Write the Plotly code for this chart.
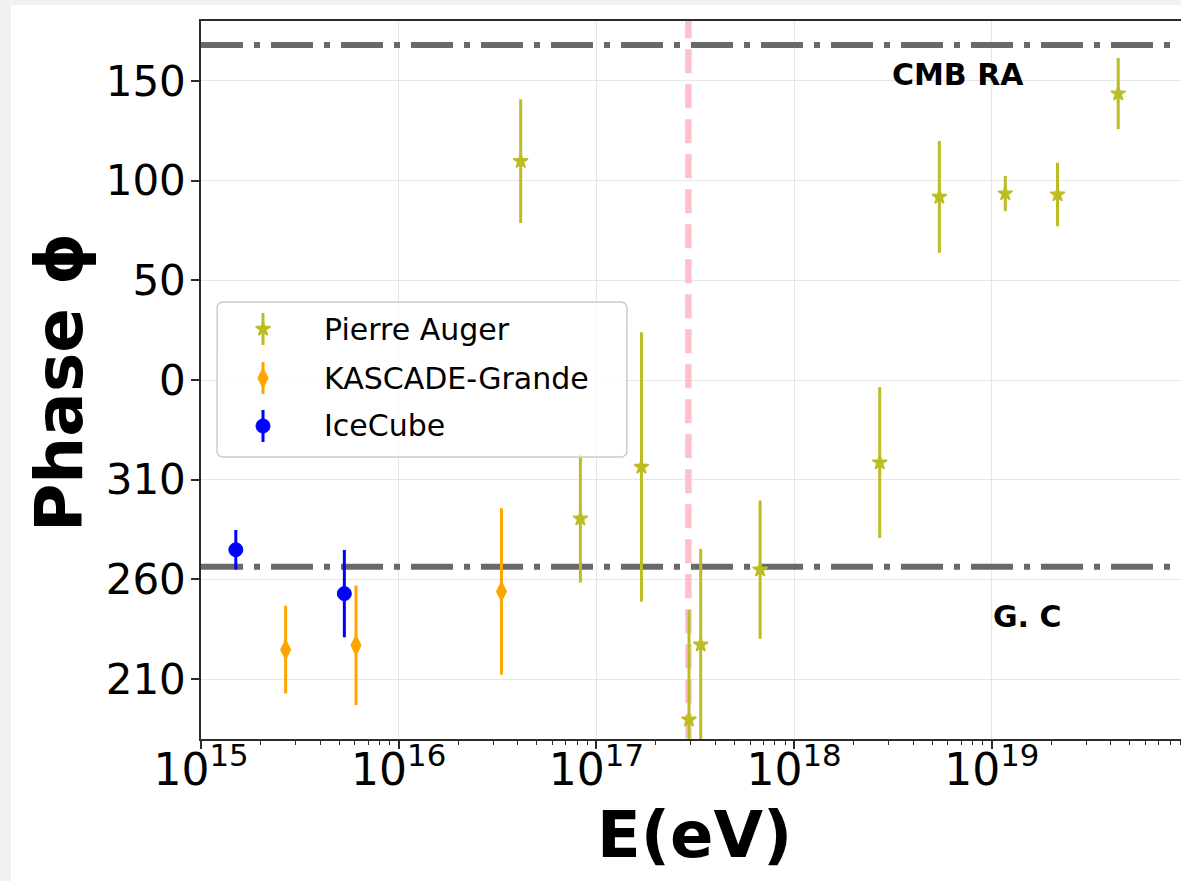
import numpy as np
import plotly.graph_objects as go

# ---------------- data ----------------
auger_E = [4.14e16, 8.3e16, 1.69e17, 2.94e17, 3.37e17, 6.73e17, 2.71e18, 5.43e18, 1.17e19, 2.15e19, 4.36e19]
auger_phase = [109.7, 290.5, 316.4, 189.7, 227.3, 264.9, 318.6, 91.8, 93.5, 93.0, 143.6]
auger_err = [31.0, 32.0, 67.6, 55.0, 48.0, 34.7, 37.8, 28.0, 8.8, 15.9, 17.8]

kg_E = [2.68e15, 6.08e15, 3.31e16]
kg_phase = [224.8, 227.0, 254.0]
kg_err = [22.0, 30.0, 41.7]

ic_E = [1.5e15, 5.31e15]
ic_phase = [274.9, 252.9]
ic_err = [9.9, 21.9]

cmb_ra = 168.0
gc_ra = 266.4
knee_E = 2.92e17

ytick_vals = [150, 100, 50, 0, -50, -100, -150]
ytick_text = ["150", "100", "50", "0", "310", "260", "210"]
xtick_vals = [1e15, 1e16, 1e17, 1e18, 1e19]
xtick_text = ["10<sup>15</sup>", "10<sup>16</sup>", "10<sup>17</sup>", "10<sup>18</sup>", "10<sup>19</sup>"]

series_names = ["Pierre Auger", "KASCADE-Grande", "IceCube"]
series_colors = ["#bcbd22", "#ffa500", "#0000ff"]
series_symbols = ["star", "diamond-tall", "circle"]
series_sizes = [11, 12, 14]
series_lw = [1.5, 2.5, 1.0]


def wrap(p):
    return p - 360.0 if p > 180.0 else p


# ---------------- geometry ----------------
W, H = 1181, 881
L, R, T, B = 201, 0, 21, 142
PW = W - L - R
PH = H - T - B
DECADE_PX = 197.7
FONT = "DejaVu Sans"
AXC = "#2b2b2b"


def fx(px):
    return (px - L) / PW


def fy(py):
    return (H - B - py) / PH


fig = go.Figure()

# reference lines
fig.add_trace(go.Scatter(x=[1e15, 1e21], y=[wrap(cmb_ra)] * 2, mode="lines",
                         line=dict(color="#696969", width=6, dash="42px,11px,6px,11px"),
                         hoverinfo="skip", showlegend=False))
fig.add_trace(go.Scatter(x=[1e15, 1e21], y=[wrap(gc_ra)] * 2, mode="lines",
                         line=dict(color="#696969", width=6, dash="42px,11px,6px,11px"),
                         hoverinfo="skip", showlegend=False))
fig.add_trace(go.Scatter(x=[knee_E, knee_E], y=[183.4, -200], mode="lines",
                         line=dict(color="#ffc0cb", width=6.5, dash="24px,11px"),
                         hoverinfo="skip", showlegend=False))

# data
datasets = [(auger_E, auger_phase, auger_err), (kg_E, kg_phase, kg_err), (ic_E, ic_phase, ic_err)]
for (E, ph, er), name, col, sym, sz, lw in zip(datasets, series_names, series_colors,
                                              series_symbols, series_sizes, series_lw):
    fig.add_trace(go.Scatter(
        x=E, y=[wrap(p) for p in ph], mode="markers", name=name,
        marker=dict(symbol=sym, size=sz, color=col, line=dict(color=col, width=lw)),
        error_y=dict(type="data", array=er, visible=True, color=col, thickness=3, width=0),
        hoverinfo="skip", showlegend=False))

# ---------------- manual legend (overlay axes in plot fraction) ----------------
bx0, by0, bx1, by1, rad = 217, 302, 627, 457, 6
pts = []
for cx, cy, a0 in [(bx1 - rad, by0 + rad, -90), (bx1 - rad, by1 - rad, 0),
                   (bx0 + rad, by1 - rad, 90), (bx0 + rad, by0 + rad, 180)]:
    for a in np.linspace(a0, a0 + 90, 7):
        pts.append((cx + rad * np.cos(np.radians(a)), cy + rad * np.sin(np.radians(a))))
pts.append(pts[0])
fig.add_trace(go.Scatter(x=[fx(p[0]) for p in pts], y=[fy(p[1]) for p in pts],
                         xaxis="x2", yaxis="y2", mode="lines", fill="toself",
                         fillcolor="rgba(255,255,255,0.8)", line=dict(color="#cccccc", width=1.5),
                         hoverinfo="skip", showlegend=False))
leg_rows = [329, 378, 426]
for name, col, sym, sz, lw, ry in zip(series_names, series_colors, series_symbols,
                                      series_sizes, series_lw, leg_rows):
    fig.add_trace(go.Scatter(x=[fx(263)], y=[fy(ry)], xaxis="x2", yaxis="y2", mode="markers",
                             marker=dict(symbol=sym, size=sz, color=col, line=dict(color=col, width=lw)),
                             error_y=dict(type="constant", value=16 / PH, visible=True, color=col,
                                          thickness=3, width=0),
                             hoverinfo="skip", showlegend=False))

annotations = []
for name, ry in zip(series_names, leg_rows):
    annotations.append(dict(x=fx(322), y=fy(ry), xref="paper", yref="paper", text=name,
                            showarrow=False, xanchor="left", yanchor="middle",
                            font=dict(family=FONT, size=30, color="black")))

annotations += [
    dict(x=fx(958), y=fy(74.5), xref="paper", yref="paper", text="<b>CMB RA</b>", showarrow=False,
         xanchor="center", yanchor="middle", font=dict(family=FONT, size=30, color="black")),
    dict(x=fx(1027), y=fy(616), xref="paper", yref="paper", text="<b>G. C</b>", showarrow=False,
         xanchor="center", yanchor="middle", font=dict(family=FONT, size=30, color="black")),
    dict(x=fx(694), y=fy(835), xref="paper", yref="paper", text="<b>E(eV)</b>", showarrow=False,
         xanchor="center", yanchor="middle", font=dict(family=FONT, size=64, color="black")),
    dict(x=fx(60), y=fy(383), xref="paper", yref="paper", text="<b>Phase ϕ</b>", showarrow=False,
         textangle=-90, xanchor="center", yanchor="middle", font=dict(family=FONT, size=66, color="black")),
]

minor_vals = [k * 10.0 ** d for d in range(15, 20) for k in range(2, 10)]

fig.update_layout(
    width=W, height=H, autosize=False,
    margin=dict(l=L, r=R, t=T, b=B, pad=0),
    paper_bgcolor="#f1f1f1", plot_bgcolor="white",
    font=dict(family=FONT, color="black"),
    showlegend=False,
    xaxis=dict(type="log", range=[15, 15 + PW / DECADE_PX], tickmode="array",
               tickvals=xtick_vals, ticktext=xtick_text,
               ticks="outside", ticklen=8, tickwidth=1.5, tickcolor=AXC,
               showline=True, linecolor=AXC, linewidth=1.5, mirror=True,
               showgrid=True, gridcolor="#e6e6e6", gridwidth=1.2, zeroline=False,
               tickfont=dict(family=FONT, size=44, color="black"), automargin=False,
               ticklabelstandoff=-17,
               minor=dict(tickmode="array", tickvals=minor_vals, ticks="outside", ticklen=4,
                          tickwidth=1, tickcolor=AXC, showgrid=False)),
    yaxis=dict(range=[-180, 180], tickmode="array", tickvals=ytick_vals, ticktext=ytick_text,
               ticks="outside", ticklen=8, tickwidth=1.5, tickcolor=AXC,
               showline=True, linecolor=AXC, linewidth=1.5, mirror=False,
               showgrid=True, gridcolor="#e6e6e6", gridwidth=1.2, zeroline=False,
               tickfont=dict(family=FONT, size=42, color="black"), automargin=False,
               ticklabelstandoff=-3),
    xaxis2=dict(overlaying="x", anchor="y2", range=[0, 1], visible=False, fixedrange=True),
    yaxis2=dict(overlaying="y", anchor="x2", range=[0, 1], visible=False, fixedrange=True),
    annotations=annotations,
    shapes=[dict(type="rect", xref="paper", yref="paper", x0=fx(11), x1=fx(1200), y0=fy(5), y1=fy(900),
                 fillcolor="white", line=dict(width=0), layer="below")],
)

fig.write_html("out.html", config={"displayModeBar": False},
               post_script="document.body.style.margin='0px';document.body.style.overflow='hidden';")
